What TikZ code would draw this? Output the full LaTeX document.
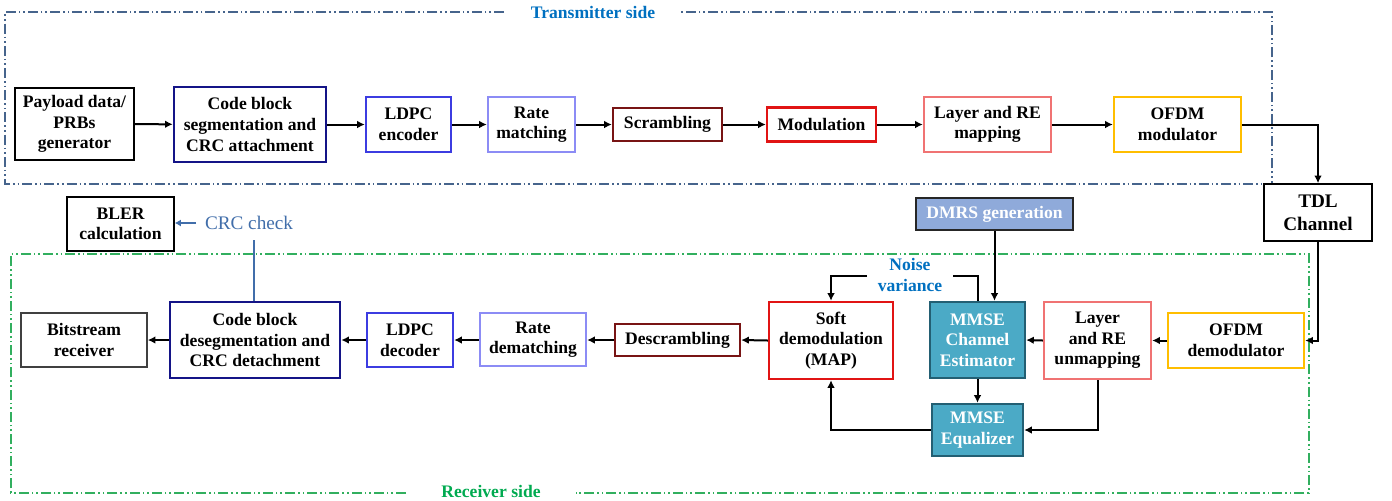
\documentclass[tikz,border=0pt]{standalone}
\usepackage{fontspec}
\setmainfont{Liberation Serif}
\usetikzlibrary{arrows.meta}
\definecolor{cNavy}{RGB}{20,20,135}
\definecolor{cBlue}{RGB}{60,60,225}
\definecolor{cLav}{RGB}{140,140,245}
\definecolor{cMaroon}{RGB}{120,20,20}
\definecolor{cRed}{RGB}{225,20,20}
\definecolor{cSalmon}{RGB}{240,115,115}
\definecolor{cGold}{RGB}{255,190,0}
\definecolor{cDmrs}{RGB}{143,170,218}
\definecolor{cTeal}{RGB}{75,170,198}
\definecolor{cTealD}{RGB}{35,95,115}
\definecolor{cTx}{RGB}{70,100,140}
\definecolor{cTxT}{RGB}{0,112,192}
\definecolor{cRx}{RGB}{50,175,95}
\definecolor{cRxT}{RGB}{0,170,80}
\definecolor{cCrc}{RGB}{65,110,170}
\tikzset{
  blk/.style={draw, line width=1.2pt, align=center, inner sep=0pt, fill=white,
    font=\bfseries\fontsize{8.8}{10.3}\selectfont},
  sz/.style 2 args={minimum width=#1*0.5pt, minimum height=#2*0.5pt},
  arr/.style={line width=1pt, -{Latex[length=3.8pt,width=3.8pt]}},
  ln/.style={line width=1pt},
  tealbox/.style={blk, draw=cTealD, fill=cTeal, text=white},
  region/.style={line width=0.6pt, dash pattern=on 5pt off 1.5pt on 0.8pt off 1.5pt on 0.8pt off 1.5pt},
  ttl/.style={font=\bfseries\fontsize{8.8}{10.3}\selectfont, inner sep=0pt, align=center},
}
\begin{document}
\begin{tikzpicture}[x=0.5pt,y=-0.5pt]
\useasboundingbox (0,0) rectangle (1392,500);
% regions
\draw[region, draw=cTx] (504,12) -- (5,12) -- (5,184) -- (1272,184) -- (1272,12) -- (681,12);
\node[ttl, text=cTxT] (txt) at (593,12) {Transmitter side};
\draw[region, draw=cRx] (406,493) -- (11,493) -- (11,254) -- (1309,254) -- (1309,493) -- (576,493);
\node[ttl, text=cRxT] (rxt) at (491,491) {Receiver side};
% top row
\node[blk, draw=black, line width=0.8pt, sz={119}{72}] (pay) at (74.5,124) {Payload data/\\PRBs\\generator};
\node[blk, draw=cNavy, line width=1.3pt, sz={152}{75}] (cbs) at (250,124.5) {Code block\\segmentation and\\CRC attachment};
\node[blk, draw=cBlue, sz={85}{55}] (ldpce) at (408.5,124.5) {LDPC\\encoder};
\node[blk, draw=cLav, sz={87}{55}] (rm) at (531.5,124.5) {Rate\\matching};
\node[blk, draw=cMaroon, sz={109}{33}] (scr) at (667.5,124.5) {Scrambling};
\node[blk, draw=cRed, sz={109}{34}] (mod) at (821.5,124.5) {Modulation};
\node[blk, draw=cSalmon, sz={127}{55}] (lay) at (987.5,124.5) {Layer and RE\\mapping};
\node[blk, draw=cGold, sz={127}{55}] (ofdm) at (1177.5,124.5) {OFDM\\modulator};
\node[blk, draw=black, line width=0.8pt, sz={108}{57}, font=\bfseries\fontsize{9.6}{11.5}\selectfont] (tdl) at (1318,212.5) {TDL\\Channel};
% middle
\node[blk, draw=black, line width=0.8pt, sz={107}{54}] (bler) at (120.5,224) {BLER\\calculation};
\node[inner sep=0pt, text=cCrc, font=\fontsize{9.6}{11.5}\selectfont] (crc) at (249,223) {CRC check};
\node[blk, draw=black!85, fill=cDmrs, text=white, sz={157}{32}] (dmrs) at (994.5,214) {DMRS generation};
% bottom row
\node[blk, draw=black!75, line width=0.8pt, sz={126}{54}] (bit) at (84,340) {Bitstream\\receiver};
\node[blk, draw=cNavy, line width=1.3pt, sz={170}{76}] (cbd) at (255,340) {Code block\\desegmentation and\\CRC detachment};
\node[blk, draw=cBlue, sz={86}{54}] (ldpcd) at (410,340) {LDPC\\decoder};
\node[blk, draw=cLav, sz={106}{53}] (rdm) at (533,339.5) {Rate\\dematching};
\node[blk, draw=cMaroon, sz={125}{32}] (dscr) at (677.5,340) {Descrambling};
\node[blk, draw=cRed, sz={124}{77}] (soft) at (831,340.5) {Soft\\demodulation\\(MAP)};
\node[tealbox, sz={95}{76}] (mce) at (977.5,340) {MMSE\\Channel\\Estimator};
\node[blk, draw=cSalmon, sz={107}{77}] (lru) at (1097.5,340.5) {Layer\\and RE\\unmapping};
\node[blk, draw=cGold, sz={136}{55}] (ofdmd) at (1236,340.5) {OFDM\\demodulator};
\node[tealbox, sz={91}{52}] (meq) at (977.5,430) {MMSE\\Equalizer};
\node[ttl, text=cTxT] (nv) at (910,275) {Noise\\variance};
\coordinate (nvR) at (953,276);
\coordinate (nvL) at (867,276);
\coordinate (crcL) at (196,223);
\coordinate (crcB) at (254,240);
% top connectors
\draw[arr] (pay) -- (cbs);
\draw[arr] (cbs) -- (ldpce);
\draw[arr] (ldpce) -- (rm);
\draw[arr] (rm) -- (scr);
\draw[arr] (scr) -- (mod);
\draw[arr] (mod) -- (lay);
\draw[arr] (lay) -- (ofdm);
\draw[arr] (ofdm.east) -| (tdl.north);
\draw[arr] (tdl.south) |- (ofdmd.east);
% bottom connectors
\draw[arr] (ofdmd) -- (lru);
\draw[arr] (lru.west) -- (mce.east);
\draw[arr] (soft.west) -- (dscr.east);
\draw[arr] (dscr.west) -- (rdm.east |- dscr.west);
\draw[arr] (rdm.west |- ldpcd.east) -- (ldpcd.east);
\draw[arr] (ldpcd) -- (cbd);
\draw[arr] (cbd) -- (bit);
\draw[arr] (mce) -- (meq);
\draw[arr] (lru.south) |- (meq.east);
\draw[arr] (meq.west) -| (soft.south);
\draw[arr] (dmrs.south) -- (dmrs.south |- mce.north);
\draw[ln] (mce.north) |- (nvR);
\draw[arr] (nvL) -| (soft.north);
% CRC
\draw[line width=1pt, draw=cCrc, -{Latex[length=3pt,width=3.5pt]}] (crcL) -- (bler.east |- crcL);
\draw[line width=0.8pt, draw=cCrc] (crcB) -- (crcB |- cbd.north);
\end{tikzpicture}
\end{document}
